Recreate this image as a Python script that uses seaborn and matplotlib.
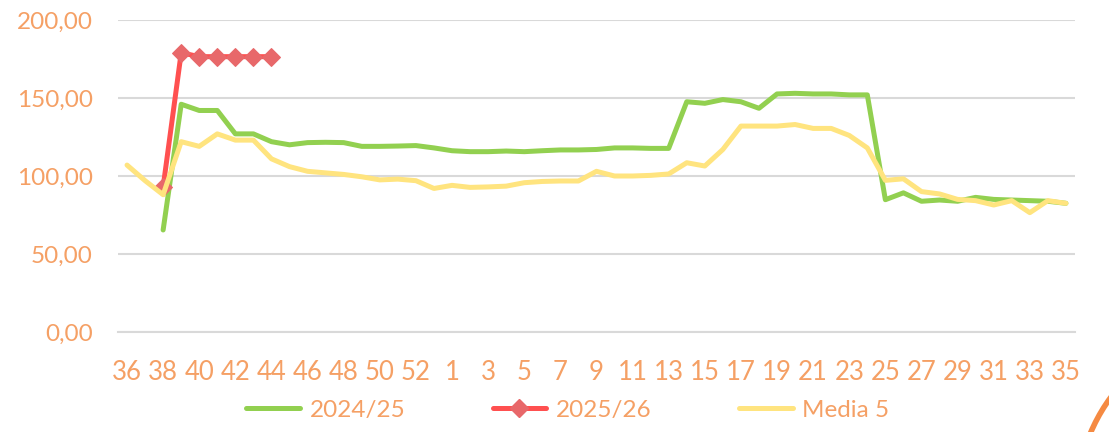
import numpy as np
import pandas as pd
import matplotlib
matplotlib.use("Agg")
import matplotlib.pyplot as plt
from matplotlib.patches import Circle
from matplotlib.lines import Line2D
from matplotlib.transforms import IdentityTransform
import seaborn as sns

# weeks 36..53 then 1..35
weeks = [str(w) for w in range(36, 54)] + [str(w) for w in range(1, 36)]

nan = np.nan
s_2024 = [nan, nan, 65.4, 146, 142, 142, 127, 127, 122, 120, 121.4, 121.6, 121.4, 119, 119, 119.2,
          119.5, 118, 116.2, 115.6, 115.6, 116, 115.6, 116.2, 116.7, 116.7, 117, 118, 118, 117.7,
          117.7, 147.6, 146.6, 149, 147.6, 143.4, 152.6, 153, 152.6, 152.6, 152, 152, 84.8, 89.2,
          83.8, 84.6, 83.8, 86.3, 85, 84.6, 84.2, 83.8, 82.5]
s_2025 = [nan, nan, 93, 179, 176.5, 176.5, 176.5, 176.5, 176.5] + [nan] * 44
s_media = [107, 97, 88, 122, 119, 127, 123, 123, 111, 106, 103, 102, 101, 99.5, 97.5, 98, 97,
           92, 94, 92.7, 93, 93.5, 95.7, 96.5, 96.8, 96.8, 103, 100, 100, 100.4, 101.3, 108.5,
           106.4, 117, 132, 132, 132, 133, 130.5, 130.5, 126, 118, 97.2, 98.2, 90, 88.5, 85,
           84.2, 81.4, 84.2, 76.5, 84.2, 82.5]

series = ["2024/25", "2025/26", "Media 5"]
colors = {"2024/25": "#92D050", "2025/26": "#FF5050", "Media 5": "#FFE47F"}
txt = "#F5A065"

df = pd.DataFrame({"pos": np.arange(len(weeks)), "2024/25": s_2024,
                   "2025/26": s_2025, "Media 5": s_media})

sns.set_style("white")
plt.rcParams["font.family"] = ["Lato", "DejaVu Sans"]

fig = plt.figure(figsize=(11.09, 4.32), dpi=100)
ax = fig.add_axes([0.1064, 0.2315, 0.8629, 0.7222])

sns.lineplot(data=df, x="pos", y="2024/25", ax=ax, color=colors["2024/25"], lw=3.6,
             solid_capstyle="round", zorder=3)
sns.lineplot(data=df, x="pos", y="2025/26", ax=ax, color=colors["2025/26"], lw=3.6,
             marker="D", markersize=9, markerfacecolor="#E8686A", markeredgecolor="#E8686A",
             solid_capstyle="round", zorder=4)
sns.lineplot(data=df, x="pos", y="Media 5", ax=ax, color=colors["Media 5"], lw=3.6,
             solid_capstyle="round", zorder=5)

ax.set_xlim(-0.5, len(weeks) - 0.5)
ax.set_ylim(0, 200)
ax.set_yticks([0, 50, 100, 150, 200])
ax.set_yticklabels(["0,00", "50,00", "100,00", "150,00", "200,00"])
ax.set_xticks(np.arange(0, len(weeks), 2))
ax.set_xticklabels(weeks[::2])
ax.set_xticks(np.arange(-0.5, len(weeks), 1), minor=True)
ax.tick_params(axis="x", which="major", length=0, pad=20, labelsize=18.5, labelcolor=txt)
ax.tick_params(axis="x", which="minor", length=8, width=1.2, color="#D9D9D9", direction="out")
ax.tick_params(axis="y", length=0, pad=18, labelsize=17.5, labelcolor=txt)
ax.yaxis.grid(True, color="#D9D9D9", lw=1.5)
ax.set_axisbelow(True)
for side in ["top", "right", "left"]:
    ax.spines[side].set_visible(False)
ax.spines["bottom"].set_color("#D9D9D9")
ax.spines["bottom"].set_linewidth(1.5)
ax.set_xlabel("")
ax.set_ylabel("")

handles = [
    Line2D([], [], color=colors["2024/25"], lw=3.6, solid_capstyle="round"),
    Line2D([], [], color=colors["2025/26"], lw=3.6, marker="D", markersize=9,
           markerfacecolor="#E8686A", markeredgecolor="#E8686A", solid_capstyle="round"),
    Line2D([], [], color=colors["Media 5"], lw=3.6, solid_capstyle="round"),
]
leg = fig.legend(handles, series, loc="center", bbox_to_anchor=(0.512, 0.05), ncol=3,
                 frameon=False, fontsize=17.5, handlelength=2.2, handletextpad=0.4,
                 columnspacing=3.6)
for t in leg.get_texts():
    t.set_color(txt)

# decorative orange arc in the bottom-right corner
fig.patches.append(Circle((1250, -68), 173, fill=False, ec="#F58A42", lw=4,
                          transform=IdentityTransform(), figure=fig))

fig.savefig("out.png", dpi=100)
